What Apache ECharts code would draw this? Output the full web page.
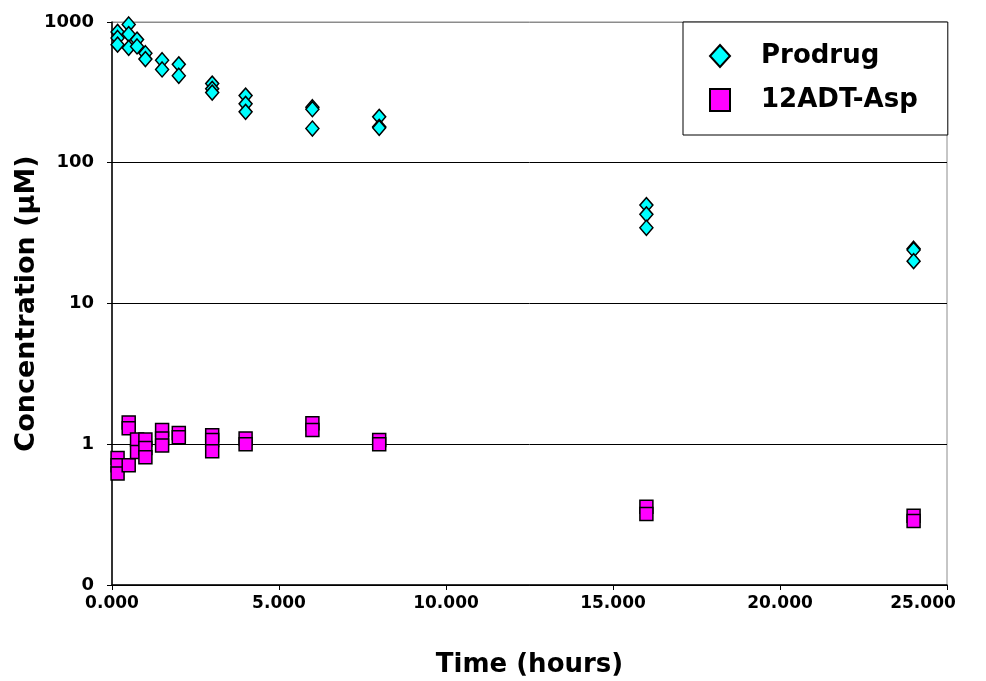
<!DOCTYPE html>
<html>
<head>
<meta charset="utf-8">
<script src="https://cdn.jsdelivr.net/npm/echarts@6/dist/echarts.min.js"></script>
<style>
  html, body { margin: 0; padding: 0; background: #fff; }
  #chart { width: 986px; height: 681px; }
</style>
</head>
<body>
<div id="chart"></div>
<script>
// sampling times (hours)
const times = [0.167, 0.5, 0.75, 1, 1.5, 2, 3, 4, 6, 8, 16, 24];

// replicate concentrations (uM) at each time
const prodrug = [
  [850, 770, 690],
  [960, 820, 655],
  [750, 670],
  [600, 545],
  [535, 460],
  [500, 415],
  [365, 335, 315],
  [300, 262, 230],
  [248, 240, 175],
  [212, 180, 177],
  [50, 43, 34.5],
  [24.5, 24, 20]
];

const adtAsp = [
  [0.80, 0.71, 0.62],
  [1.43, 1.30, 0.71],
  [1.08, 0.88],
  [1.08, 0.94, 0.81],
  [1.26, 1.10, 0.98],
  [1.20, 1.12],
  [1.16, 1.07, 0.89],
  [1.10, 1.00],
  [1.41, 1.26],
  [1.07, 1.00],
  [0.36, 0.32],
  [0.31, 0.285]
];

const xTicks = [0, 5, 10, 15, 20, 25];
const yTicks = [0.1, 1, 10, 100, 1000];

function toPoints(vals) {
  let out = [];
  times.forEach((t, i) => {
    vals[i].forEach((v) => out.push([t, v]));
  });
  return out;
}

const font = "DejaVu Sans";
const tickFont = { fontFamily: font, fontWeight: "bold", fontSize: 17, color: "#000" };

const chart = echarts.init(document.getElementById("chart"), null, { renderer: "canvas" });

chart.setOption({
  backgroundColor: "#fff",
  animation: false,
  grid: {
    left: 112, right: 39, top: 22, bottom: 96,
    outerBoundsMode: "none",
    containLabel: false,
    show: true, borderColor: "#8c8c8c", borderWidth: 1, backgroundColor: "transparent"
  },
  legend: {
    orient: "vertical",
    left: 683, top: 22,
    backgroundColor: "#fff",
    borderColor: "#000",
    borderWidth: 1,
    borderRadius: 0,
    padding: [21, 30, 22, 26],
    itemGap: 18,
    itemWidth: 20,
    itemHeight: 22,
    textStyle: {
      fontFamily: font, fontWeight: "bold", fontSize: 26, lineHeight: 25, color: "#000",
      padding: [0, 0, 0, 26]
    },
    data: ["Prodrug", "12ADT-Asp"]
  },
  xAxis: {
    type: "value",
    min: xTicks[0], max: xTicks[xTicks.length - 1], interval: 5,
    name: "Time (hours)",
    nameLocation: "middle",
    nameGap: 67,
    nameTextStyle: { fontFamily: font, fontWeight: "bold", fontSize: 26, color: "#000" },
    axisLine: { lineStyle: { color: "#000", width: 1.5 } },
    axisTick: { show: true, inside: false, length: 5, lineStyle: { color: "#000" } },
    axisLabel: Object.assign({
      margin: 10,
      // last label is pulled left to stay inside the chart, like the original
      formatter: (v) => (v === xTicks[xTicks.length - 1] ? "{last|" + v.toFixed(3) + "}" : v.toFixed(3)),
      rich: { last: Object.assign({ padding: [0, 48, 0, 0] }, tickFont) }
    }, tickFont),
    splitLine: { show: false }
  },
  yAxis: {
    type: "log",
    logBase: 10,
    min: yTicks[0], max: yTicks[yTicks.length - 1],
    name: "Concentration (µM)",
    nameLocation: "middle",
    nameMoveOverlap: false,
    nameGap: 72,
    nameTextStyle: { fontFamily: font, fontWeight: "bold", fontSize: 27, color: "#000" },
    axisLine: { show: true, lineStyle: { color: "#000", width: 1.5 } },
    axisTick: { show: true, inside: false, length: 5, lineStyle: { color: "#000" } },
    axisLabel: {
      margin: 18,
      fontFamily: font, fontWeight: "bold", fontSize: 18, color: "#000",
      formatter: (v) => (v < 0.99 ? "0" : String(Math.round(v)))
    },
    splitLine: {
      show: true,
      lineStyle: { color: ["#000", "#000", "#000", "#000", "#8c8c8c"], width: 1 }
    }
  },
  series: [
    {
      name: "Prodrug",
      type: "scatter",
      symbol: "diamond",
      symbolSize: [13, 15],
      itemStyle: { color: "#00ffff", borderColor: "#000", borderWidth: 1.5, opacity: 1 },
      data: toPoints(prodrug)
    },
    {
      name: "12ADT-Asp",
      type: "scatter",
      symbol: "rect",
      symbolSize: [13, 13],
      itemStyle: { color: "#ff00ff", borderColor: "#000", borderWidth: 1.5, opacity: 1 },
      data: toPoints(adtAsp)
    }
  ]
});
</script>
</body>
</html>
